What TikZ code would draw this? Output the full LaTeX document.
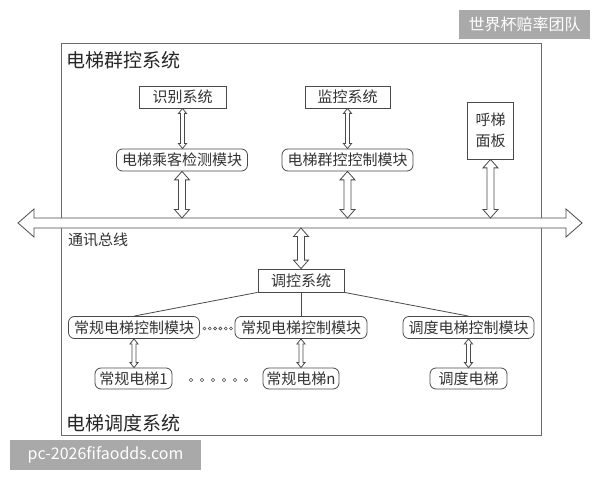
\documentclass[tikz,border=0pt]{standalone}
\usepackage{fontspec}
\newfontfamily\cjk{Noto Sans CJK SC}
\usetikzlibrary{calc}
\definecolor{framegray}{HTML}{6A6A6A}
\definecolor{linegray}{HTML}{4A4A4A}
\definecolor{markgray}{HTML}{A9A9A9}

% hollow two-headed arrow: #1 upper end, #2 lower end, #3 half shaft, #4 half head, #5 head length
\newcommand{\vlink}[5]{%
  \draw[link] let \p1=(#1), \p2=(#2) in
    (\x1,\y1) -- (\x1+#4,\y1-#5) -- (\x1+#3,\y1-#5) -- (\x1+#3,\y2+#5)
    -- (\x1+#4,\y2+#5) -- (\x1,\y2) -- (\x1-#4,\y2+#5) -- (\x1-#3,\y2+#5)
    -- (\x1-#3,\y1-#5) -- (\x1-#4,\y1-#5) -- cycle;}
\newcommand{\biglink}[2]{\vlink{#1}{#2}{3.5bp}{7.5bp}{8.5bp}}
\newcommand{\smalllink}[2]{\vlink{#1}{#2}{2bp}{4bp}{5bp}}

\begin{document}
\begin{tikzpicture}[
  x=1bp, y=-1bp,
  link/.style={draw=linegray, line width=0.8bp, fill=white, line join=miter},
  box/.style={draw=linegray, line width=0.8bp, inner sep=0pt, minimum height=22bp,
    text=black!80, font=\cjk\fontsize{15bp}{18bp}\selectfont},
  sysbox/.style={box},
  modbox/.style={box, rounded corners=6bp},
  title/.style={anchor=west, inner sep=0pt, text=black!85, font=\cjk\fontsize{19bp}{22bp}\selectfont},
  wmark/.style={fill=markgray, text=white, inner sep=0pt, font=\cjk\fontsize{16bp}{18bp}\selectfont}
]
\useasboundingbox (0,0) rectangle (600,480);

% ===================== Outer frame =====================
\draw[framegray, line width=1bp] (61.5,44) rectangle (541.5,435);
\node[title] (grouptitle) at (66,60)  {电梯群控系统};
\node[title] (disptitle)  at (66,423) {电梯调度系统};

% ===================== Group control =====================
\node[sysbox, minimum width=87bp] (idsys)  at (182.5,97) {识别系统};
\node[sysbox, minimum width=85bp] (monsys) at (347.5,97) {监控系统};
\node[sysbox, minimum width=46bp, minimum height=57bp, align=center,
  font=\cjk\fontsize{15bp}{21bp}\selectfont] (callpanel) at (490.5,130.5) {呼梯\\面板};

\node[modbox, minimum width=131bp] (detmod) at (182,160)   {电梯乘客检测模块};
\node[modbox, minimum width=131bp] (grpmod) at (347.5,160) {电梯群控控制模块};

\smalllink{idsys.south}{detmod.north}
\smalllink{monsys.south}{grpmod.north}

% ===================== Bus =====================
\coordinate (busW) at (18,223);
\coordinate (busE) at (582,223);
\coordinate (busN) at (300,218);
\coordinate (busS) at (300,228);
\draw[link] let \p1=(busW), \p2=(busE) in
  (\x1,\y1) -- (\x1+16bp,\y1+14bp) -- (\x1+16bp,\y1+5bp) -- (\x2-16bp,\y1+5bp)
  -- (\x2-16bp,\y1+14bp) -- (\x2,\y1) -- (\x2-16bp,\y1-14bp) -- (\x2-16bp,\y1-5bp)
  -- (\x1+16bp,\y1-5bp) -- (\x1+16bp,\y1-14bp) -- cycle;
\node[anchor=west, inner sep=0pt, text=black!80, font=\cjk\fontsize{15bp}{18bp}\selectfont]
  (buslabel) at (68,240) {通讯总线};

\biglink{detmod.south}{detmod.south |- busN}
\biglink{grpmod.south}{grpmod.south |- busN}
\biglink{callpanel.south}{callpanel.south |- busN}

% ===================== Dispatch =====================
\node[sysbox, minimum width=86bp, minimum height=23bp] (ctrl) at (301,280.5) {调控系统};
\biglink{ctrl.north |- busS}{ctrl.north}

\node[modbox, minimum width=131bp] (normmodA) at (134,327.5)   {常规电梯控制模块};
\node[modbox, minimum width=132bp] (normmodN) at (301,327.5)   {常规电梯控制模块};
\node[modbox, minimum width=131bp] (dispmod)  at (468.5,327.5) {调度电梯控制模块};

\draw[linegray, line width=0.8bp] (ctrl.south west) -- (normmodA.north);
\draw[linegray, line width=0.8bp] (ctrl.south) -- (normmodN.north);
\draw[linegray, line width=0.8bp] (ctrl.south east) -- (dispmod.north);

\node[modbox, minimum width=77bp, minimum height=21bp] (liftA) at (133.5,378.5) {常规电梯1};
\node[modbox, minimum width=76bp, minimum height=21bp] (liftN) at (301,378.5)   {常规电梯n};
\node[modbox, minimum width=77bp, minimum height=21bp] (liftD) at (468.5,378.5) {调度电梯};

\smalllink{normmodA.south}{liftA.north}
\smalllink{normmodN.south}{liftN.north}
\smalllink{dispmod.south}{liftD.north}

% dots
\foreach \i in {0,...,5}
  \draw[linegray, line width=0.6bp] (204.5+5.3*\i,328.5) circle (1.5bp);
\foreach \i in {0,...,5}
  \draw[linegray, line width=0.6bp] (191+11*\i,380) circle (1.8bp);

% ===================== Marks =====================
\node[wmark, minimum width=131bp, minimum height=29bp] (topmark) at (524.5,24.5) {世界杯赔率团队};
\node[wmark, minimum width=191bp, minimum height=30bp] (botmark) at (105.5,455) {pc-2026fifaodds.com};

\end{tikzpicture}
\end{document}
